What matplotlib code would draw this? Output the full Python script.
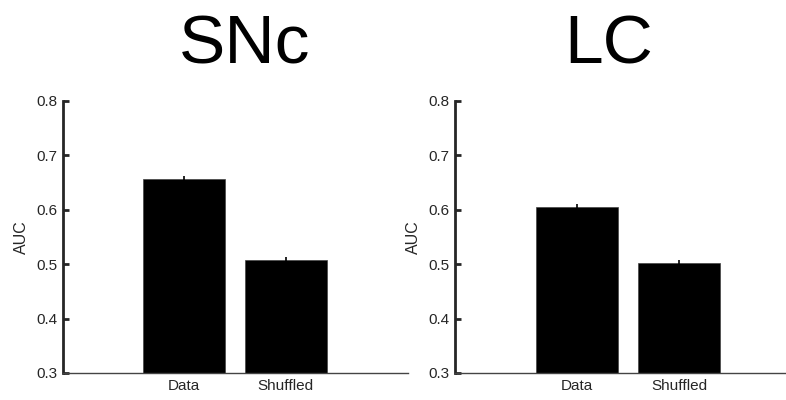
import matplotlib.pyplot as plt

plt.rcParams['font.family'] = ['Liberation Sans', 'DejaVu Sans']

conditions = ['Data', 'Shuffled']
regions = ['SNc', 'LC']
auc_snc = [0.657, 0.508]
err_snc = [0.006, 0.006]
auc_lc = [0.606, 0.503]
err_lc = [0.005, 0.004]
yticks = [0.3, 0.4, 0.5, 0.6, 0.7, 0.8]

W, H = 786, 400
fig = plt.figure(figsize=(W / 100, H / 100), dpi=100)

# axes boxes in pixels: left, width, values, errors, title centre
panels = [(63, 345, auc_snc, err_snc, 245), (455, 347, auc_lc, err_lc, 609)]
top_px, bot_px = 101, 373
grey = '#262626'

for (x0, w, vals, errs, tx), name in zip(panels, regions):
    ax = fig.add_axes([x0 / W, 1 - bot_px / H, w / W, (bot_px - top_px) / H])
    xs = [1, 2]
    ax.bar(xs, vals, width=0.8, color='black', edgecolor='#444444', linewidth=0.5, zorder=2)
    ax.errorbar(xs, vals, yerr=errs, fmt='none', ecolor='black', elinewidth=1.2, capsize=0, zorder=3)
    ax.set_xlim(-0.19, 3.2)
    ax.set_ylim(0.3, 0.8)
    ax.set_yticks(yticks)
    ax.set_yticklabels(['%.1f' % v for v in yticks])
    ax.set_xticks(xs)
    ax.set_xticklabels(conditions)
    ax.spines['top'].set_visible(False)
    ax.spines['right'].set_visible(False)
    ax.spines['left'].set_linewidth(2.0)
    ax.spines['left'].set_color(grey)
    ax.spines['bottom'].set_linewidth(1.0)
    ax.spines['bottom'].set_color('#444444')
    ax.tick_params(axis='y', direction='in', length=4, width=2.0, color=grey,
                   labelsize=11, labelcolor=grey, pad=4)
    ax.tick_params(axis='x', direction='in', length=3, width=1.0, color='#555555',
                   labelsize=11, labelcolor=grey, pad=4)
    ax.set_ylabel('AUC', fontsize=11.5, color=grey, labelpad=5)
    fig.text(tx / W, 1 - 64 / H, name, fontsize=50, ha='center', va='baseline', color='black')

fig.savefig('out.png', dpi=100)
